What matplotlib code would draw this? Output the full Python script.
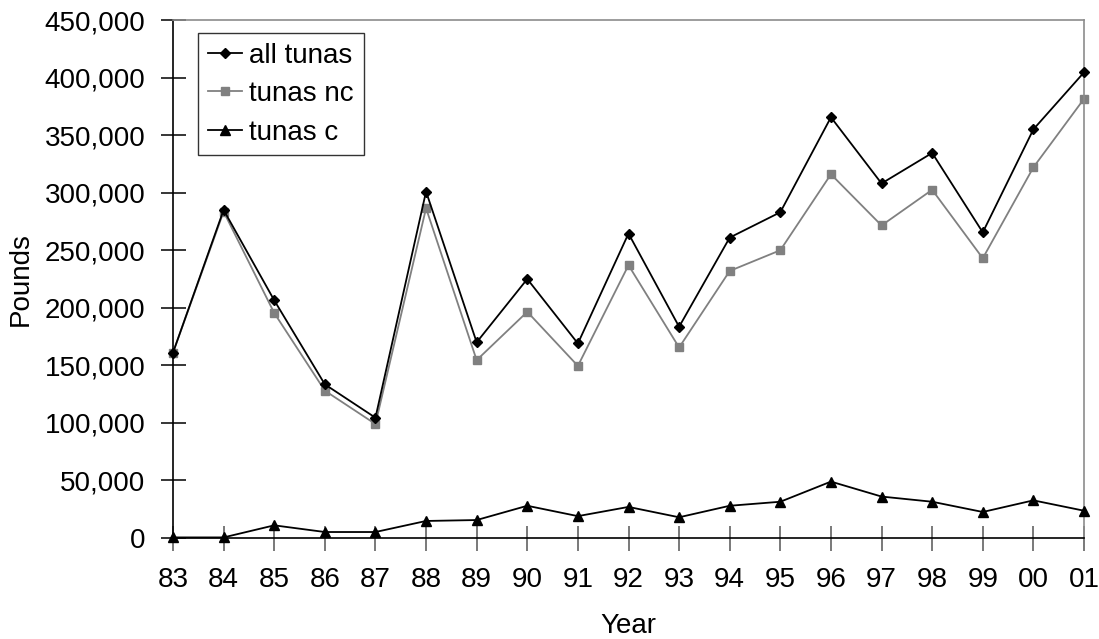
import matplotlib
matplotlib.use("Agg")
import matplotlib.pyplot as plt
from matplotlib.ticker import FuncFormatter

plt.rcParams['font.family'] = ['Liberation Sans', 'DejaVu Sans']

years = ["83", "84", "85", "86", "87", "88", "89", "90", "91", "92",
         "93", "94", "95", "96", "97", "98", "99", "00", "01"]
all_tunas = [161000, 285000, 206500, 133500, 104500, 301000, 170000, 225000, 169000, 264500,
             183500, 261000, 283000, 365500, 308000, 334500, 265500, 355000, 404500]
tunas_nc = [161000, 283500, 195500, 128000, 99000, 286500, 154500, 196500, 149500, 237000,
            165500, 232000, 250000, 316000, 271500, 302500, 243000, 322000, 381500]
tunas_c = [500, 500, 11000, 5200, 5200, 14800, 15600, 28000, 19000, 27000,
           18000, 28000, 31500, 49000, 36000, 31500, 22600, 32700, 23700]

W, H = 1099, 639
fig = plt.figure(figsize=(W / 100, H / 100), dpi=100)
ax = fig.add_axes([173 / W, 1 - 538 / H, (1084 - 173) / W, (538 - 20) / H])

x = list(range(len(years)))
ax.plot(x, all_tunas, color='black', lw=1.3, marker='D', ms=5,
        mfc='black', mec='black', label='all tunas', clip_on=False, zorder=3)
ax.plot(x, tunas_nc, color='#808080', lw=1.3, marker='s', ms=6,
        mfc='#808080', mec='#808080', label='tunas nc', clip_on=False, zorder=2)
ax.plot(x, tunas_c, color='black', lw=1.3, marker='^', ms=7,
        mfc='black', mec='black', label='tunas c', clip_on=False, zorder=3)

ax.set_xlim(0, len(years) - 1)
ax.set_ylim(0, 450000)
ax.set_yticks(range(0, 450001, 50000))
ax.yaxis.set_major_formatter(FuncFormatter(lambda v, p: f"{int(v):,}"))
ax.set_xticks(x)
ax.set_xticklabels(years)

ax.tick_params(axis='y', direction='inout', length=18, width=1.1, color='black',
               labelsize=20, pad=11)
ax.tick_params(axis='x', direction='inout', length=18, width=1.1, color='#555555',
               labelsize=20, pad=12)

for side in ('left', 'bottom'):
    ax.spines[side].set_color('black')
    ax.spines[side].set_linewidth(1.2)
for side in ('top', 'right'):
    ax.spines[side].set_color('#8c8c8c')
    ax.spines[side].set_linewidth(1.2)

ax.set_xlabel('Year', fontsize=20, labelpad=14)
ax.set_ylabel('Pounds', fontsize=20, labelpad=8)

leg = ax.legend(loc='upper left', bbox_to_anchor=(25 / 911, 1 - 13 / 518),
                fontsize=20, frameon=True, fancybox=False, borderpad=0.35,
                handlelength=1.25, handletextpad=0.25, labelspacing=0.45,
                borderaxespad=0, handleheight=0.7)
leg.get_frame().set_edgecolor('black')
leg.get_frame().set_linewidth(1.0)

fig.savefig('out.png', dpi=100)
